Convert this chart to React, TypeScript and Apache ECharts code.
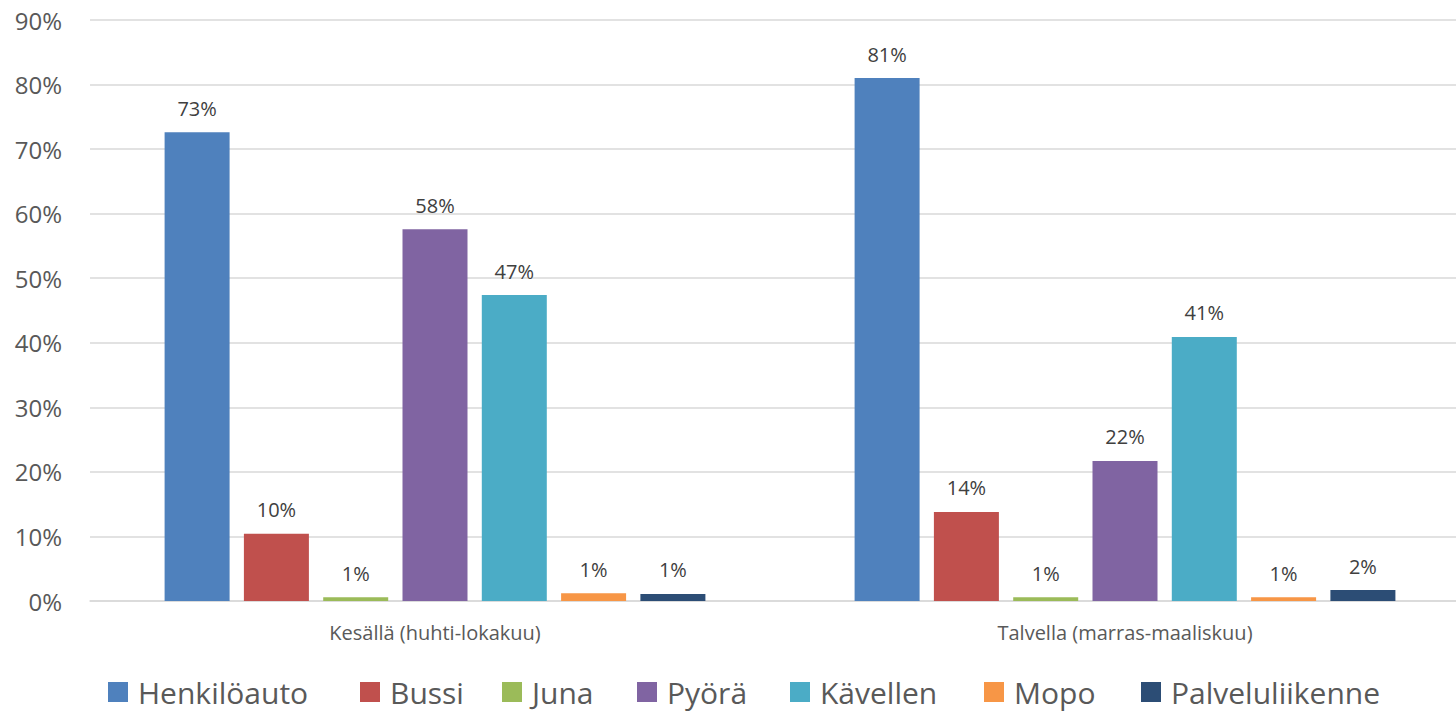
import React, { useEffect, useRef } from "react";
import * as echarts from "echarts";

const categories = ["Kesällä (huhti-lokakuu)", "Talvella (marras-maaliskuu)"];
const seriesNames = ["Henkilöauto", "Bussi", "Juna", "Pyörä", "Kävellen", "Mopo", "Palveluliikenne"];
const henkiloauto = [72.6, 81.0];
const bussi = [10.4, 13.8];
const juna = [0.6, 0.6];
const pyora = [57.6, 21.7];
const kavellen = [47.4, 40.9];
const mopo = [1.2, 0.6];
const palvelu = [1.1, 1.7];
const seriesValues = [henkiloauto, bussi, juna, pyora, kavellen, mopo, palvelu];
const colors = ["#4F81BD", "#C0504D", "#9BBB59", "#8064A2", "#4BACC6", "#F79646", "#2C4D75"];
const yTicks = [0, 10, 20, 30, 40, 50, 60, 70, 80, 90];

const FONT = "Open Sans, sans-serif";

export default function App() {
  const ref = useRef<HTMLDivElement>(null);
  useEffect(() => {
    if (!ref.current) return;
    const chart = echarts.init(ref.current, null, { renderer: "svg" });
    const legendLeft = [108, 360, 502, 637, 790, 984, 1141];
    chart.setOption({
      animation: false,
      color: colors,
      textStyle: { fontFamily: FONT },
      grid: { left: 90, top: 20, width: 1380, height: 581, containLabel: false },
      legend: seriesNames.map((name, i) => ({
        data: [name],
        left: legendLeft[i],
        top: 677,
        padding: 0,
        icon: "rect",
        itemWidth: 20,
        itemHeight: 20,
        textStyle: {
          fontSize: 30,
          lineHeight: 30,
          color: "#595959",
          fontFamily: FONT,
          padding: [0, 0, 0, 5],
        },
      })),
      xAxis: {
        type: "category",
        data: categories,
        axisLine: { show: true, lineStyle: { color: "#D9D9D9", width: 1.5 } },
        axisTick: { show: false },
        axisLabel: { fontSize: 20, color: "#595959", margin: 21 },
      },
      yAxis: {
        type: "value",
        min: yTicks[0],
        max: yTicks[yTicks.length - 1],
        interval: 10,
        axisLine: { show: false },
        axisTick: { show: false },
        splitLine: { lineStyle: { color: "#D9D9D9", width: 1.5 } },
        axisLabel: { fontSize: 24, color: "#595959", margin: 28, formatter: (v: number) => v + "%" },
      },
      series: seriesNames.map((name, i) => ({
        name,
        type: "bar",
        data: seriesValues[i],
        barWidth: 65,
        barGap: "22%",
        itemStyle: { color: colors[i] },
        label: {
          show: true,
          position: "top",
          distance: 14,
          fontSize: 20,
          color: "#404040",
          formatter: (p: any) => Math.round(p.value) + "%",
        },
      })),
    });
    return () => chart.dispose();
  }, []);
  return (
    <div style={{ position: "fixed", left: 0, top: 0, width: 1456, height: 711, overflow: "hidden", background: "#fff" }}>
      <div ref={ref} style={{ width: 1472, height: 711 }} />
    </div>
  );
}
